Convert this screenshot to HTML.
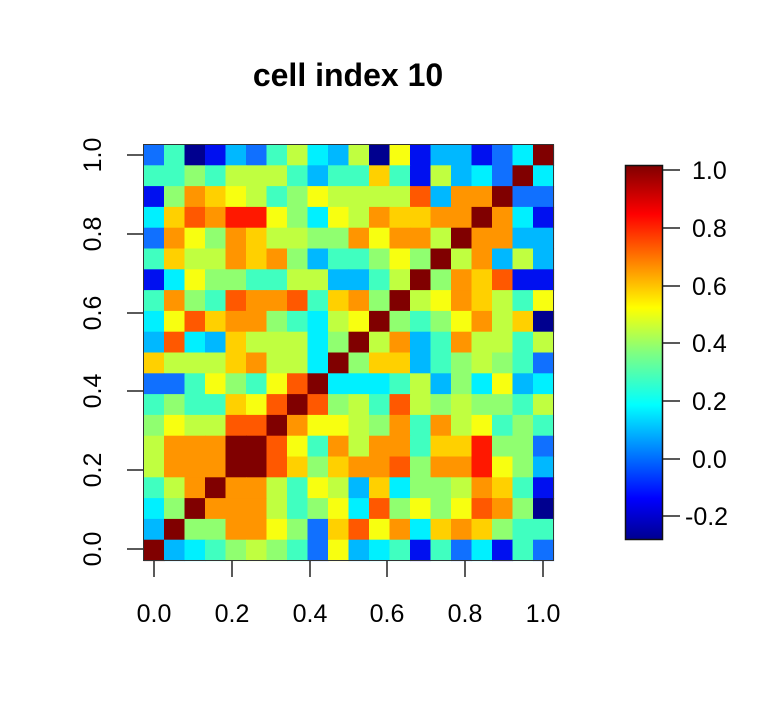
<!DOCTYPE html>
<html><head><meta charset="utf-8"><style>
html,body{margin:0;padding:0;background:#fff;width:775px;height:702px;overflow:hidden}
svg text{font-family:"Liberation Sans",Arial,sans-serif;fill:#000}
</style></head><body>
<svg id="s" width="775" height="702" xmlns="http://www.w3.org/2000/svg">
<defs><linearGradient id="jet" x1="0" y1="1" x2="0" y2="0">
<stop offset="0" stop-color="#00008F"/><stop offset="0.11" stop-color="#0000FF"/>
<stop offset="0.36" stop-color="#00FFFF"/><stop offset="0.5" stop-color="#80FF80"/>
<stop offset="0.62" stop-color="#FFFF00"/><stop offset="0.87" stop-color="#FF0000"/>
<stop offset="1" stop-color="#800000"/></linearGradient></defs>
<g id="cells"></g>
<rect x="143.5" y="144.5" width="410" height="416" fill="none" stroke="#333" stroke-width="1"/>
<text x="348" y="86" font-size="32" font-weight="bold" text-anchor="middle">cell index 10</text>
<g stroke="#222" stroke-width="1.5">
<line x1="154" y1="561" x2="154" y2="577"/><line x1="232" y1="561" x2="232" y2="577"/>
<line x1="310" y1="561" x2="310" y2="577"/><line x1="387" y1="561" x2="387" y2="577"/>
<line x1="465" y1="561" x2="465" y2="577"/><line x1="543" y1="561" x2="543" y2="577"/>
<line x1="127" y1="549" x2="143" y2="549"/><line x1="127" y1="470" x2="143" y2="470"/>
<line x1="127" y1="391" x2="143" y2="391"/><line x1="127" y1="313" x2="143" y2="313"/>
<line x1="127" y1="234" x2="143" y2="234"/><line x1="127" y1="155" x2="143" y2="155"/>
</g>
<g font-size="25" text-anchor="middle">
<text x="154" y="622">0.0</text><text x="232" y="622">0.2</text><text x="310" y="622">0.4</text>
<text x="387" y="622">0.6</text><text x="465" y="622">0.8</text><text x="543" y="622">1.0</text>
<text transform="translate(101,549) rotate(-90)">0.0</text>
<text transform="translate(101,470) rotate(-90)">0.2</text>
<text transform="translate(101,391) rotate(-90)">0.4</text>
<text transform="translate(101,313) rotate(-90)">0.6</text>
<text transform="translate(101,234) rotate(-90)">0.8</text>
<text transform="translate(101,155) rotate(-90)">1.0</text>
</g>
<rect x="625.5" y="165.5" width="37" height="374" fill="url(#jet)" stroke="#111" stroke-width="1.5"/>
<g stroke="#222" stroke-width="1.5">
<line x1="663" y1="170" x2="680" y2="170"/><line x1="663" y1="228" x2="680" y2="228"/>
<line x1="663" y1="286" x2="680" y2="286"/><line x1="663" y1="343" x2="680" y2="343"/>
<line x1="663" y1="401" x2="680" y2="401"/><line x1="663" y1="459" x2="680" y2="459"/>
<line x1="663" y1="516" x2="680" y2="516"/></g>
<g font-size="25">
<text x="692" y="179">1.0</text><text x="692" y="237">0.8</text><text x="692" y="295">0.6</text>
<text x="692" y="352">0.4</text><text x="692" y="410">0.2</text><text x="692" y="468">0.0</text>
<text x="685" y="525">-0.2</text></g>
</svg>
<script>
var P={dB:"#00008F",B:"#0010F0",lB:"#1070FF",sky:"#00B8FF",C:"#00F0FF",tq:"#40FFC0",lg:"#90FF70",yg:"#C0FF40",Y:"#F8FF10",yo:"#FFD000",O:"#FF9500",dO:"#FF5800",R:"#FF1800",dR:"#800000"};
var M=[
"lB tq dB B sky lB tq yg C sky yg dB Y B sky sky B lB C dR",
"tq tq lg tq yg yg yg tq sky tq tq yo tq B yg sky C lB dR C",
"B lg O yo Y yg tq lg Y yg yg yg yg dO sky O O dR lB lB",
"C yo dO O R R Y lg C Y yg O yo yo O O dR O C B",
"lB O Y lg O yo yg yg lg lg O Y O O yg dR O O sky sky",
"tq yo yg yg O yo O lg sky tq tq lg Y lg dR yg O sky yg sky",
"B C Y lg lg tq tq yg yg sky sky tq yg dR lg O yo dO B B",
"tq O lg tq dO O O dO tq yo O lg dR yg Y O yo yg tq Y",
"C Y dO yo O O lg tq C yg Y dR lg tq lg Y O yg yo dB",
"sky dO C sky yo yg yg yg C lg dR yg O sky tq O yg yg tq yg",
"yo yg yg yg yo O yg yg C dR lg yo yo sky tq lg yg lg tq lB",
"lB lB tq Y lg tq Y dO dR C C C tq yg sky lg C Y sky C",
"tq lg tq tq yo Y dO dR dO lg yg tq dO yg lg yg lg lg tq yg",
"lg Y yg yg dO dO dR O Y Y yg lg O tq O yg Y tq lg tq",
"yg O O O dR dR dO Y tq O yg O O tq yo yo R lg lg lB",
"yg O O O dR dR dO yo lg yo O O dO lg O O R Y lg sky",
"tq yg O dR O O yg tq Y yg sky yo C lg lg yg O yo tq B",
"C lg dR O O O yg tq lg Y C dO lg Y lg Y dO O lg dB",
"sky dR lg lg O O Y lg lB yo dO Y O C yo O yo lg tq tq",
"dR sky C tq lg yg lg tq lB Y sky C tq B tq lB C B tq lB"];
var g=document.getElementById("cells"),h="";
var x0=143.5,y0=144.5,w=410/20,ht=416/20;
for(var r=0;r<20;r++){var a=M[r].split(" ");for(var c=0;c<20;c++){
h+='<rect x="'+(x0+c*w).toFixed(2)+'" y="'+(y0+r*ht).toFixed(2)+'" width="'+(w+0.6).toFixed(2)+'" height="'+(ht+0.6).toFixed(2)+'" fill="'+P[a[c]]+'"/>';}}
g.innerHTML=h;
</script>
</body></html>
